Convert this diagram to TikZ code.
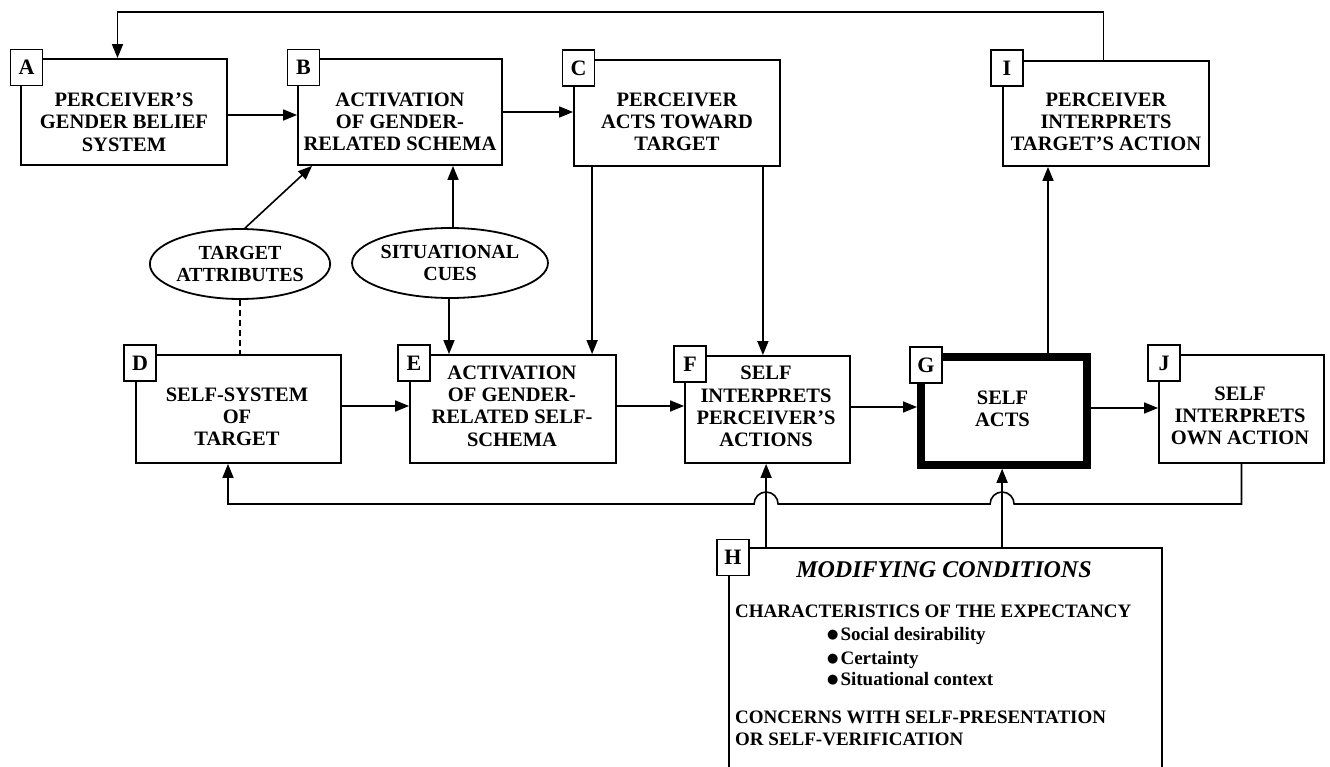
\documentclass[tikz,border=0pt]{standalone}
\usepackage{fontspec}
\setmainfont{Liberation Serif}
\newfontfamily\dejavu{DejaVu Sans}
\usetikzlibrary{arrows.meta,shapes.geometric,calc}
\newcommand{\hbul}{\raisebox{1.5pt}{\dejavu\fontsize{13}{13}\selectfont ●}\hspace{2pt}}
\begin{document}
\begin{tikzpicture}[x=1pt,y=-1pt,
  box/.style={draw,line width=1.8pt,inner sep=0pt},
  txt/.style={font=\fontsize{20.5}{22.3}\selectfont\bfseries,align=center,inner sep=0pt},
  tag/.style={draw,fill=white,line width=1.8pt,minimum width=32pt,minimum height=36pt,inner sep=0pt,font=\fontsize{22}{24}\selectfont\bfseries},
  oval/.style={ellipse,draw,line width=1.8pt,minimum width=176pt,minimum height=70pt,inner sep=0pt,align=center,font=\fontsize{20}{22.3}\selectfont\bfseries},
  arr/.style={line width=1.6pt,-{Triangle[length=14pt,width=11pt]}},
  con/.style={line width=1.6pt},
  htxt/.style={font=\fontsize{19}{21}\selectfont\bfseries,inner sep=0pt,anchor=base west},
  htitle/.style={font=\fontsize{24}{26}\selectfont\bfseries\itshape,inner sep=0pt,anchor=base}]
\useasboundingbox (0,0) rectangle (1330,767);
\clip (0,0) rectangle (1330,767);

% boxes
\node[box,minimum width=206pt,minimum height=106pt] (A) at (124,112) {};
\node[box,minimum width=204pt,minimum height=106pt] (B) at (400,112) {};
\node[box,minimum width=206pt,minimum height=106pt] (C) at (677,113) {};
\node[box,minimum width=206pt,minimum height=105pt] (I) at (1106,113.5) {};
\node[box,minimum width=205pt,minimum height=108pt] (D) at (238.5,409) {};
\node[box,minimum width=206pt,minimum height=108pt] (E) at (513,409) {};
\node[box,minimum width=165pt,minimum height=107pt] (F) at (767.5,409.5) {};
\node[box,line width=8pt,minimum width=166pt,minimum height=107.5pt] (G) at (1004,411) {};
\node[box,minimum width=165pt,minimum height=108pt] (J) at (1241.5,409) {};
\node[box,minimum width=433pt,minimum height=252pt] (H) at (945.5,674) {};

% texts
\node[txt] (tA) at (124,122) {PERCEIVER’S\\GENDER BELIEF\\SYSTEM};
\node[txt] (tB) at (400,122) {ACTIVATION\\OF GENDER-\\RELATED SCHEMA};
\node[txt] (tC) at (677,122) {PERCEIVER\\ACTS TOWARD\\TARGET};
\node[txt] (tI) at (1106,122) {PERCEIVER\\INTERPRETS\\TARGET’S ACTION};
\node[txt] (tD) at (237,417) {SELF-SYSTEM\\OF\\TARGET};
\node[txt] (tE) at (512,406) {ACTIVATION\\OF GENDER-\\RELATED SELF-\\SCHEMA};
\node[txt] (tF) at (766,406.5) {SELF\\INTERPRETS\\PERCEIVER’S\\ACTIONS};
\node[txt] (tG) at (1002.5,409) {SELF\\ACTS};
\node[txt] (tJ) at (1240,416) {SELF\\INTERPRETS\\OWN ACTION};

% ellipses
\node[oval] (TA) at (240,264) {TARGET\\ATTRIBUTES};
\node[oval] (SC) at (450,263) {SITUATIONAL\\CUES};

% H contents
\node[htitle] (hT) at (944,577) {MODIFYING CONDITIONS};
\node[htxt] (h1t) at (735,617) {CHARACTERISTICS OF THE EXPECTANCY};
\node[htxt] (hb1) at (827,640) {\hbul Social desirability};
\node[htxt] (hb2) at (827,664) {\hbul Certainty};
\node[htxt] (hb3) at (827,685) {\hbul Situational context};
\node[htxt] (hc1) at (735,723) {CONCERNS WITH SELF-PRESENTATION};
\node[htxt] (hc2) at (735,745) {OR SELF-VERIFICATION};

% connectors
\draw[arr] ([yshift=-3pt]A.east) -- ([yshift=-3pt]A.east -| B.west);
\draw[arr] (B.east) -- (B.east -| C.west);
\draw[arr] ([xshift=19pt]C.south west) -- ([xshift=19pt]C.south west |- E.north);
\draw[arr] ([xshift=-18pt]C.south east) -- ([xshift=-18pt]C.south east |- F.north);
\draw[arr] ([xshift=5pt]TA.north) -- ([xshift=15pt]B.south west);
\draw[con,dash pattern=on 6pt off 4pt] (TA.south) -- (TA.south |- D.north);
\draw[arr] ([xshift=3pt]SC.north) -- ([xshift=3pt]SC.north |- B.south);
\draw[arr] ([xshift=-1pt]SC.south) -- ([xshift=-1pt]SC.south |- E.north);
\draw[arr] ([yshift=3pt]D.east) -- ([yshift=3pt]D.east -| E.west);
\draw[arr] ([yshift=3pt]E.east) -- ([yshift=3pt]E.east -| F.west);
\draw[arr] ([yshift=2.5pt]F.east) -- ([yshift=2.5pt]F.east -| G.west);
\draw[arr] ([yshift=3pt]G.east) -- ([yshift=3pt]G.east -| J.west);
\draw[arr] ([xshift=44pt]G.north) -- ([xshift=44pt]G.north |- I.south);

% top feedback
\coordinate (top) at (0,12);
\coordinate (aIn) at ([xshift=-6.5pt]A.north);
\draw[arr] ([xshift=-2.5pt]I.north) |- (aIn |- top) -- (aIn);

% bottom feedback with hops
\coordinate (bot) at (0,504);
\coordinate (dIn) at ([xshift=-10.5pt]D.south);
\coordinate (h1) at ([xshift=38pt]H.north west);
\coordinate (h2) at ([xshift=274pt]H.north west);
\draw[arr] (J.south) -- (J.south |- bot)
  -- ($(h2 |- bot)+(12,0)$) .. controls +(0,-6.6) and +(6.6,0) .. ($(h2 |- bot)+(0,-12)$)
  .. controls +(-6.6,0) and +(0,-6.6) .. ($(h2 |- bot)+(-12,0)$)
  -- ($(h1 |- bot)+(12,0)$) .. controls +(0,-6.6) and +(6.6,0) .. ($(h1 |- bot)+(0,-12)$)
  .. controls +(-6.6,0) and +(0,-6.6) .. ($(h1 |- bot)+(-12,0)$)
  -- (dIn |- bot) -- (dIn);
\draw[arr] (h1) -- (h1 |- F.south);
\draw[arr] (h2) -- (h2 |- G.south);

% tags
\node[tag] (lA) at (26.5,67.5) {A};
\node[tag] (lB) at (303.5,67.5) {B};
\node[tag] (lC) at (578.5,68) {C};
\node[tag] (lI) at (1007,68) {I};
\node[tag] (lD) at (140,363) {D};
\node[tag] (lE) at (414,363) {E};
\node[tag] (lF) at (690,364) {F};
\node[tag] (lG) at (926,365) {G};
\node[tag] (lJ) at (1164,363) {J};
\node[tag] (lH) at (733,557.5) {H};
\end{tikzpicture}
\end{document}
